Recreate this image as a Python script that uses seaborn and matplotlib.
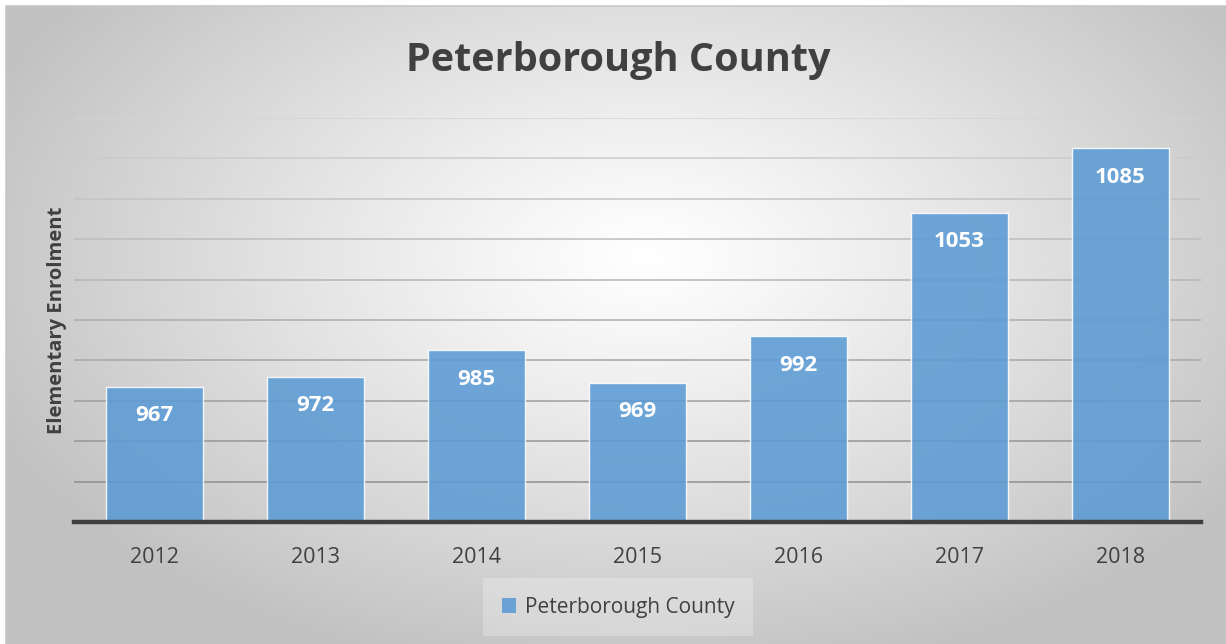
import numpy as np
import pandas as pd
import matplotlib
matplotlib.use("Agg")
import matplotlib.pyplot as plt
from matplotlib.patches import Patch
import seaborn as sns

# Enrolment figures by school year
years = ["2012", "2013", "2014", "2015", "2016", "2017", "2018"]
enrolment = [967, 972, 985, 969, 992, 1053, 1085]
series_name = "Peterborough County"
title = "Peterborough County"
y_label = "Elementary Enrolment"
y_min, y_max, y_step = 900, 1100, 20

df = pd.DataFrame({"year": years, "enrolment": enrolment})

sns.set_theme(style="white")
plt.rcParams["font.family"] = ["Open Sans", "DejaVu Sans"]

W, H, DPI = 1226, 644, 100
fig = plt.figure(figsize=(W / DPI, H / DPI), dpi=DPI)
fig.patch.set_facecolor("white")

# Chart-area backdrop: radial grey-to-white gradient inside a thin frame
off_x, off_y = 6, 6
bg = fig.add_axes([off_x / W, 0, 1 - off_x / W, 1 - off_y / H], zorder=0)
gw, gh = W - off_x, H - off_y
xx, yy = np.meshgrid(np.arange(gw), np.arange(gh))
cx, cy, rx, ry = 640, 250, 720, 430
t = np.clip(np.sqrt(((xx - cx) / rx) ** 2 + ((yy - cy) / ry) ** 2), 0, 1)
g = (255 - 62 * t ** 1.15) / 255.0
bg.imshow(np.dstack([g, g, g]), aspect="auto", interpolation="bilinear",
          extent=(0, gw, gh, 0))
bg.set_xlim(0, gw)
bg.set_ylim(gh, 0)
bg.axis("off")
# frame lines along top and left
fig.add_artist(plt.Line2D([off_x / W, 1], [1 - off_y / H] * 2, color="#c8c8c8", lw=1.2))
fig.add_artist(plt.Line2D([off_x / W] * 2, [0, 1 - off_y / H], color="#c8c8c8", lw=1.2))

# Plot area
left, right, top, bottom = 74, 1201, 118, 522
ax = fig.add_axes([left / W, 1 - bottom / H, (right - left) / W, (bottom - top) / H], zorder=1)
ax.patch.set_alpha(0)

# Horizontal gridlines, lighter toward the top
levels = np.arange(y_min + y_step, y_max + 1, y_step)
for i, lv in enumerate(levels):
    frac = i / (len(levels) - 1)
    c = 0.56 + (0.83 - 0.56) * frac
    ax.axhline(lv, color=(c, c, c), lw=1.1, zorder=0)

sns.barplot(data=df, x="year", y="enrolment", color="#5B9BD5", saturation=1,
            width=0.6, alpha=0.88, edgecolor=(1, 1, 1, 0.6), linewidth=1.0,
            ax=ax, zorder=2)

ax.set_ylim(y_min, y_max)
ax.set_xlim(-0.5, len(years) - 0.5)
ax.set_yticks([])
ax.set_xlabel("")
ax.set_ylabel("")
for s in ["top", "right", "left"]:
    ax.spines[s].set_visible(False)
ax.spines["bottom"].set_color("#404040")
ax.spines["bottom"].set_linewidth(3.2)
ax.spines["bottom"].set_zorder(5)
ax.tick_params(axis="x", length=0, pad=18, labelsize=15.5, labelcolor="#404040")

# Value labels inside the top of each bar
for bar, v in zip(ax.patches, enrolment):
    ax.annotate(f"{v}", (bar.get_x() + bar.get_width() / 2, v),
                xytext=(0, -29), textcoords="offset pixels",
                ha="center", va="center", color="white",
                fontsize=16, fontweight="bold", zorder=6)

fig.text(618 / W, 1 - 60 / H, title, ha="center", va="center",
         fontsize=28.5, fontweight="bold", color="#404040")
fig.text(57 / W, 1 - 320 / H, y_label, ha="center", va="center",
         rotation=90, fontsize=14.5, fontweight="bold", color="#404040")

handle = Patch(facecolor="#5B9BD5", alpha=0.88, edgecolor="none")
leg = fig.legend([handle], [series_name], loc="center",
                 bbox_to_anchor=(618 / W, 1 - 607 / H), frameon=True,
                 fontsize=15, handlelength=0.7, handleheight=0.7,
                 handletextpad=0.4, borderpad=0.9,
                 facecolor="white", edgecolor="none", framealpha=0.25)
leg.get_frame().set_boxstyle("square", pad=0.0)
for txt in leg.get_texts():
    txt.set_color("#404040")

fig.savefig("out.png", dpi=DPI)
